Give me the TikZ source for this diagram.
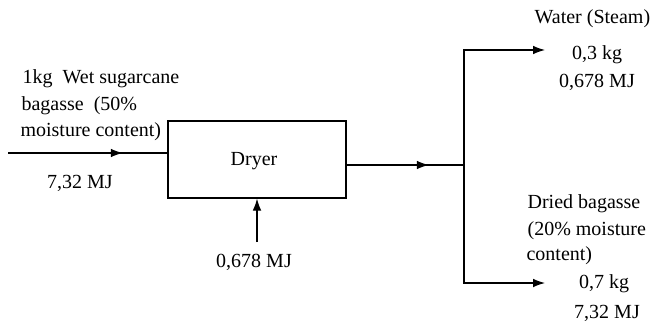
\documentclass[tikz,border=0pt]{standalone}
\usepackage{fontspec}
\setmainfont{Liberation Serif}
\usetikzlibrary{arrows.meta,decorations.markings}
\begin{document}
\begin{tikzpicture}[x=0.75pt,y=-0.75pt,
  font=\fontsize{15}{19.5}\selectfont,
  line width=0.9pt,
  tipped/.style={-{Latex[length=9pt,width=6.5pt]}},
  midarrow/.style={postaction={decorate},decoration={markings,mark=at position #1 with {\arrow{Latex[length=9pt,width=6.5pt]}}}},
  lbl/.style={inner sep=0pt, anchor=base west},
  clbl/.style={inner sep=0pt, anchor=base}]
\useasboundingbox (0,0) rectangle (656,328);
% box
\node[draw, minimum width=133.5pt, minimum height=57.75pt, inner sep=0pt] (dryer) at (257,159.5) {};
\node[clbl] (dryertxt) at (254,165) {Dryer};
% input
\coordinate (in) at (8,153);
\draw[midarrow=0.72] (in) -- (in -| dryer.west);
\node[lbl] (t1) at (22,84) {1kg\ \ Wet sugarcane};
\node[lbl] (t2) at (21,110) {bagasse\ \ (50\%};
\node[lbl] (t3) at (20,136) {moisture content)};
\node[clbl] (t4) at (80,188) {7,32 MJ};
% energy input
\coordinate (ein) at (257,242);
\draw[tipped] (ein) -- (ein |- dryer.south);
\node[clbl] (t5) at (254,267) {0,678 MJ};
% output
\coordinate (outy) at (346,165);
\coordinate (split) at (464,165);
\draw[midarrow=0.7] (outy -| dryer.east) -- (split);
\coordinate (top) at (464,50);
\coordinate (bot) at (464,283);
\coordinate (topend) at (545,50);
\coordinate (botend) at (545,283);
\draw[tipped] (split) -- (top) -- (topend);
\draw[tipped] (split) -- (bot) -- (botend);
% right texts
\node[lbl] (w1) at (534,24) {Water (Steam)};
\node[clbl] (w2) at (597,60) {0,3 kg};
\node[clbl] (w3) at (597,87) {0,678 MJ};
\node[lbl] (d1) at (527,208) {Dried bagasse};
\node[lbl] (d2) at (527,235) {(20\% moisture};
\node[lbl] (d3) at (526,260) {content)};
\node[clbl] (d4) at (604,288) {0,7 kg};
\node[clbl] (d5) at (607,318) {7,32 MJ};
\end{tikzpicture}
\end{document}
